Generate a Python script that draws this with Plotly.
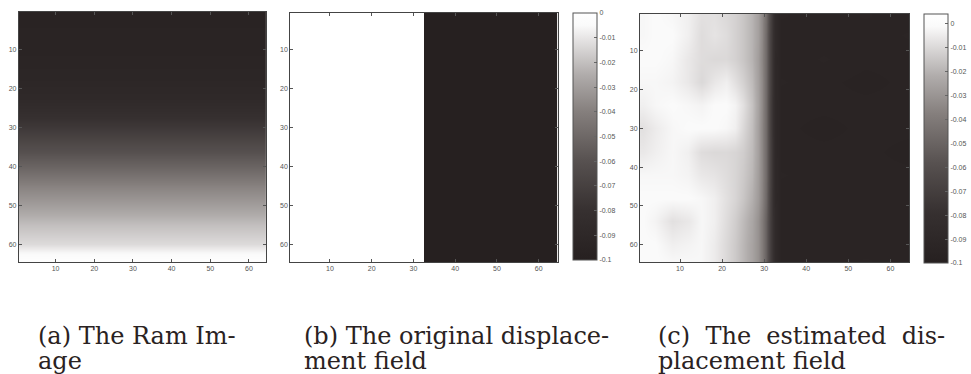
import plotly.graph_objects as go

W, H = 971, 374

# ---------------- data ----------------
# shared grey colormap (scanned MATLAB "gray")
GRAY_SCALE = [[0.0, "#262020"], [0.2, "#363030"], [0.4, "#575150"], [0.6, "#857f7d"],
              [0.75, "#b0acab"], [0.9, "#e8e6e6"], [0.95, "#fafafa"], [1.0, "#ffffff"]]

AXIS_TICKS = [10, 20, 30, 40, 50, 60]

# (a) Ram image: intensity profile down the rows (uniform across columns)
A_ROWS = [1, 10, 18, 23, 27, 30, 33, 36, 40, 45, 50, 55, 60, 62, 64]
A_VALUES = [0.04, 0.05, 0.08, 0.12, 0.19, 0.25, 0.32, 0.39, 0.48, 0.61, 0.70, 0.80, 0.87, 0.94, 0.98]
A_COLS = [1, 64]

# (b) original displacement field: left half 0, right half -0.1
B_BLOCKS = [(1, 32, 0.0), (33, 64, -0.1)]
B_N = 64

# (c) estimated displacement field (sampled grid)
C_COLS = [1, 4, 8, 12, 15, 18, 21, 23, 25, 27, 28.5, 29.5, 30.5, 31.5, 32.5, 34, 44, 54, 64]
C_ROWS = [1, 6, 12, 18, 24, 30, 36, 42, 48, 54, 60, 64]
C_VALUES = [
    [-.002, -.001, -.002, -.004, -.008, -.008, -.010, -.012, -.015, -.020, -.026, -.034, -.046, -.066, -.087, -.094, -.095, -.094, -.095],
    [-.002, -.001, -.001, -.004, -.009, -.007, -.009, -.012, -.015, -.020, -.026, -.034, -.047, -.067, -.087, -.095, -.095, -.095, -.094],
    [-.001, -.001, -.002, -.006, -.009, -.010, -.010, -.012, -.015, -.020, -.027, -.035, -.047, -.067, -.088, -.095, -.094, -.095, -.095],
    [-.002, -.002, -.003, -.006, -.010, -.006, -.004, -.008, -.012, -.018, -.026, -.034, -.047, -.067, -.088, -.094, -.095, -.096, -.095],
    [-.004, -.002, -.001, -.002, -.003, -.001, -.001, -.003, -.008, -.016, -.025, -.034, -.047, -.068, -.088, -.095, -.095, -.095, -.095],
    [-.008, -.005, -.002, -.001, -.001, -.001, -.002, -.004, -.010, -.017, -.026, -.035, -.047, -.068, -.088, -.095, -.096, -.095, -.095],
    [-.006, -.004, -.002, -.004, -.009, -.010, -.010, -.011, -.013, -.018, -.026, -.035, -.047, -.067, -.088, -.095, -.095, -.095, -.096],
    [-.002, -.002, -.002, -.003, -.006, -.007, -.009, -.011, -.014, -.019, -.027, -.035, -.047, -.067, -.088, -.094, -.095, -.095, -.095],
    [-.001, -.001, -.001, -.001, -.002, -.004, -.008, -.011, -.015, -.021, -.028, -.036, -.048, -.068, -.088, -.095, -.095, -.095, -.095],
    [-.001, -.003, -.008, -.006, -.002, -.004, -.009, -.013, -.018, -.024, -.031, -.039, -.051, -.069, -.087, -.095, -.095, -.095, -.095],
    [-.001, -.001, -.004, -.003, -.002, -.005, -.010, -.014, -.019, -.025, -.031, -.039, -.051, -.069, -.087, -.095, -.095, -.095, -.095],
    [-.001, -.001, -.002, -.002, -.002, -.005, -.010, -.014, -.019, -.025, -.031, -.039, -.051, -.069, -.087, -.095, -.095, -.094, -.095],
]

CBAR_TICKS = [0, -0.01, -0.02, -0.03, -0.04, -0.05, -0.06, -0.07, -0.08, -0.09, -0.1]
CBAR_LABELS = ["0", "-0.01", "-0.02", "-0.03", "-0.04", "-0.05", "-0.06", "-0.07", "-0.08", "-0.09", "-0.1"]
C_CMAX = 0.004

NB = "\u00a0"
CAPTIONS = [
    ["(a) The Ram Im-", "age"],
    ["(b) The original displace-", "ment field"],
    ["(c)" + NB + " The" + NB + " estimated" + NB + " dis-", "placement field"],
]

# ---------------- layout geometry (pixels) ----------------
PANELS = [  # x0, x1, y0, y1
    (19, 268, 12, 262),
    (292, 561, 13, 262),
    (644, 915, 14, 262),
]
CBARS = [(577, 13, 260), (930, 14, 263)]  # x, top, bottom
CAP_X = [36, 304, 660]
CAP_BASE = [345, 370]
CAP_SIZE = 24

def px(x):
    return x / W

def py(y):
    return 1 - y / H

# ---------------- build ----------------
fig = go.Figure()

a_z = [[v for _ in A_COLS] for v in A_VALUES]
fig.add_trace(go.Heatmap(x=A_COLS, y=A_ROWS, z=a_z, zmin=0, zmax=1, colorscale=GRAY_SCALE,
                         zsmooth="best", showscale=False, xaxis="x", yaxis="y", hoverinfo="skip"))

b_row = []
for c in range(1, B_N + 1):
    for lo, hi, val in B_BLOCKS:
        if lo <= c <= hi:
            b_row.append(val)
b_z = [list(b_row) for _ in range(B_N)]
b_x = list(range(1, B_N + 1))

def cbar(i):
    x, top, bot = CBARS[i]
    return dict(x=px(x), xanchor="left", xpad=0, ypad=0, y=py(top), yanchor="top",
                len=(bot - top) / H, lenmode="fraction", thickness=24, thicknessmode="pixels",
                outlinewidth=1, outlinecolor="#555555",
                tickmode="array", tickvals=CBAR_TICKS, ticktext=CBAR_LABELS,
                ticks="inside", ticklen=3, tickcolor="#666666",
                tickfont=dict(family="Liberation Sans", size=7, color="#555555"))

fig.add_trace(go.Heatmap(x=b_x, y=b_x, z=b_z, zmin=-0.1, zmax=0, colorscale=GRAY_SCALE,
                         showscale=True, colorbar=cbar(0), xaxis="x2", yaxis="y2", hoverinfo="skip"))

fig.add_trace(go.Heatmap(x=C_COLS, y=C_ROWS, z=C_VALUES, zmin=-0.1, zmax=C_CMAX, colorscale=GRAY_SCALE,
                         zsmooth="best", showscale=True, colorbar=cbar(1),
                         xaxis="x3", yaxis="y3", hoverinfo="skip"))

axcommon = dict(tickmode="array", tickvals=AXIS_TICKS, ticks="inside", ticklen=3,
                tickcolor="#555555", showline=True, linecolor="#444444", linewidth=1,
                mirror="ticks", showgrid=False, zeroline=False,
                tickfont=dict(family="Liberation Sans", size=7, color="#555555"))

layout = dict(width=W, height=H, margin=dict(l=0, r=0, t=0, b=0),
              paper_bgcolor="white", plot_bgcolor="white", showlegend=False)
for i, (x0, x1, y0, y1) in enumerate(PANELS):
    s = "" if i == 0 else str(i + 1)
    layout["xaxis" + s] = dict(domain=[px(x0), px(x1)], range=[0.5, 64.5],
                               anchor="y" + s, **axcommon)
    layout["yaxis" + s] = dict(domain=[py(y1), py(y0)], range=[64.5, 0.5],
                               anchor="x" + s, **axcommon)
fig.update_layout(**layout)

anns = []
for i, lines in enumerate(CAPTIONS):
    for j, line in enumerate(lines):
        anns.append(dict(text=line, xref="paper", yref="paper", x=px(CAP_X[i]),
                         y=py(CAP_BASE[j] - 9), xanchor="left", yanchor="middle",
                         showarrow=False,
                         font=dict(family="DejaVu Serif", size=CAP_SIZE, color="#2a2222")))
fig.update_layout(annotations=anns)

fig.write_html("out.html")
